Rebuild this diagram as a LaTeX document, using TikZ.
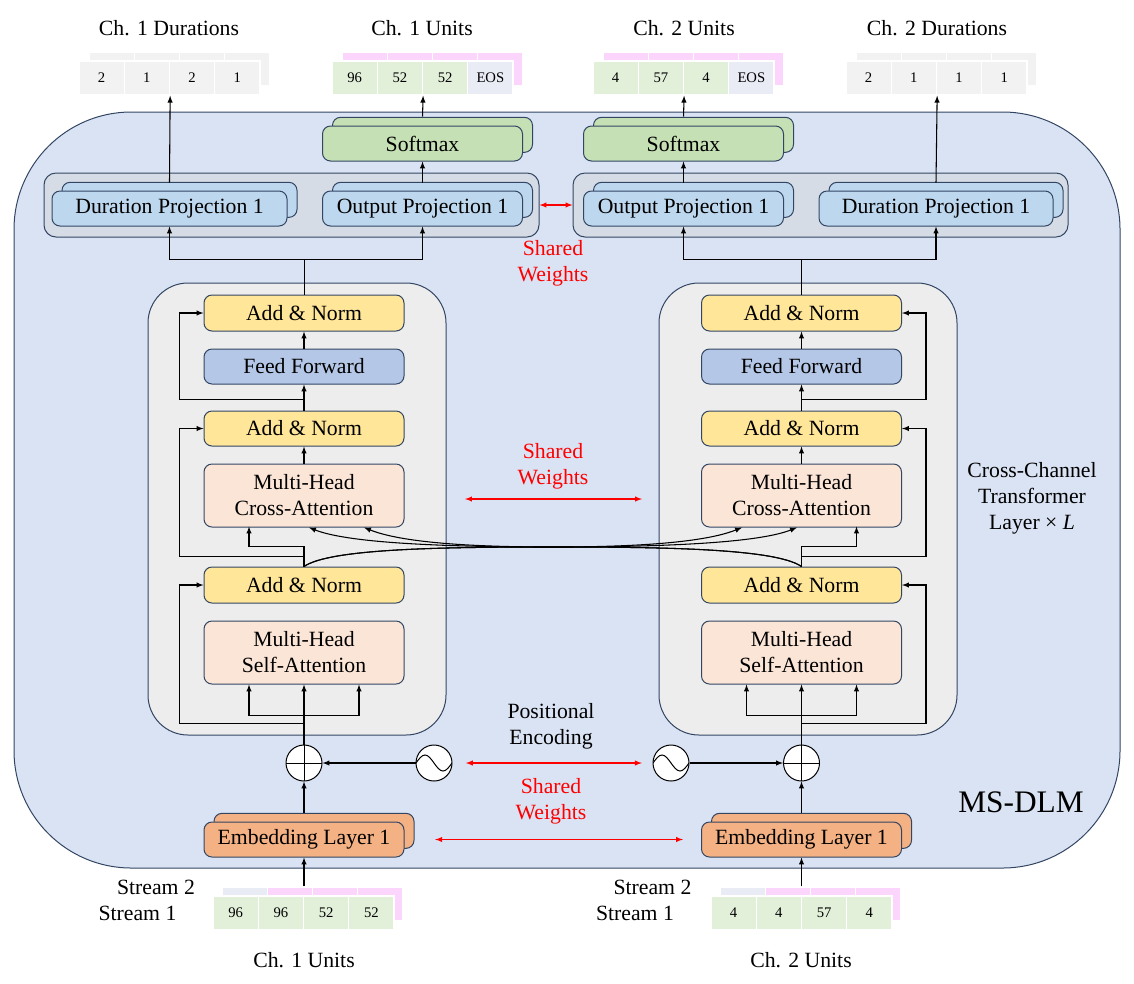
\documentclass[tikz,border=0pt]{standalone}
\usepackage{fontspec}
\setmainfont{Liberation Serif}
\usetikzlibrary{shadows}
\definecolor{outerblue}{HTML}{DAE3F3}
\definecolor{layergrey}{HTML}{EDEDED}
\definecolor{projgrey}{HTML}{D6DCE5}
\definecolor{normyellow}{HTML}{FFE699}
\definecolor{ffblue}{HTML}{B4C7E7}
\definecolor{attnpeach}{HTML}{FBE5D6}
\definecolor{smgreen}{HTML}{C5E0B4}
\definecolor{projblue}{HTML}{BDD7EE}
\definecolor{embpeach}{HTML}{F4B183}
\definecolor{edgecol}{RGB}{50,70,100}
\definecolor{tokgreen}{HTML}{E2F0D9}
\definecolor{toklav}{HTML}{E9EBF5}
\definecolor{tokpink}{HTML}{FCD5FC}
\definecolor{tokgrey}{HTML}{F2F2F2}
\tikzset{
  blk/.style={draw=edgecol, line width=0.75pt, rounded corners=6pt, minimum width=150pt, minimum height=26.25pt, inner sep=0pt, align=center},
  stack/.style={blk, copy shadow={shadow xshift=7.5pt, shadow yshift=6.5pt}},
  arrow/.style={-latex, line width=0.8pt},
  shared/.style={latex-latex, red, line width=0.8pt},
  cell/.style={draw=white, line width=1pt, minimum width=33.9pt, minimum height=25.5pt, inner sep=0pt, font=\fontsize{11}{13}\selectfont},
  plus/.style={circle, draw, fill=white, line width=0.75pt, minimum size=27pt, inner sep=0pt,
    path picture={\draw (path picture bounding box.north) -- (path picture bounding box.south) (path picture bounding box.west) -- (path picture bounding box.east);}},
  wave/.style={circle, draw, fill=white, line width=0.75pt, minimum size=27pt, inner sep=0pt,
    path picture={\draw ([xshift=-13.5pt]path picture bounding box.center) sin ++(6.75pt,6pt) cos ++(6.75pt,-6pt) sin ++(6.75pt,-6pt) cos ++(6.75pt,6pt);}},
}
\begin{document}
\begin{tikzpicture}[x=0.75pt, y=-0.75pt, font=\fontsize{16.3}{19.5}\selectfont]
\useasboundingbox (0,0) rectangle (1134,983);

% model frame
\node[draw=edgecol, fill=outerblue, line width=0.75pt, rounded corners=88pt, minimum width=829.5pt, minimum height=567pt] (msdlm) at (567,490) {};
\node[font=\fontsize{23.5}{28}\selectfont] (msdlm-label) at (1021,802) {MS-DLM};
\node[align=center] (ccl-label) at (1032,498) {Cross-Channel\\Transformer\\Layer × \textit{L}};

% transformer layers
\node[draw=edgecol, fill=layergrey, line width=0.75pt, rounded corners=30pt, minimum width=223.5pt, minimum height=339pt] (L1) at (297,509) {};
\node[draw=edgecol, fill=layergrey, line width=0.75pt, rounded corners=30pt, minimum width=223.5pt, minimum height=339pt] (L2) at (808,509) {};

\foreach \side/\cx/\anc/\dir in {1/304/west/-1, 2/801.5/east/1} {
  \node[blk, fill=normyellow, minimum height=27pt] (an3-\side) at (\cx,313) {Add \& Norm};
  \node[blk, fill=ffblue] (ff-\side) at (\cx,366.5) {Feed Forward};
  \node[blk, fill=normyellow] (an2-\side) at (\cx,428.5) {Add \& Norm};
  \node[blk, fill=attnpeach, minimum height=47.25pt] (ca-\side) at (\cx,495.5) {Multi-Head\\Cross-Attention};
  \node[blk, fill=normyellow, minimum height=27pt] (an1-\side) at (\cx,585) {Add \& Norm};
  \node[blk, fill=attnpeach, minimum height=47.25pt] (sa-\side) at (\cx,652.5) {Multi-Head\\Self-Attention};
  \node[plus] (plus-\side) at (\cx,763) {};
  \node[stack, fill=embpeach] (emb-\side) at (\cx,839.5) {Embedding Layer 1};

  \draw[arrow] (emb-\side.north) ++(0,-9) -- (plus-\side.south);
  \draw[arrow] (plus-\side.north) -- (sa-\side.south);
  \draw[arrow] (sa-\side.south) ++(0,31) -| ++(-55,-31);
  \draw[arrow] (sa-\side.south) ++(0,31) -| ++(55,-31);
  \draw[arrow] (sa-\side.south) ++(0,39) -| ([xshift=\dir*18pt]an1-\side.\anc) -- (an1-\side.\anc);
  \draw[arrow] (an1-\side.north) -- ++(0,-20) -| ++(\dir*55,-20);
  \draw[arrow] (an1-\side.north) ++(0,-10) -| ([xshift=\dir*18pt]an2-\side.\anc) -- (an2-\side.\anc);
  \draw[arrow] (ca-\side.north) -- (an2-\side.south);
  \draw[arrow] (an2-\side.north) -- (ff-\side.south);
  \draw[arrow] (an2-\side.north) ++(0,-11) -| ([xshift=\dir*18pt]an3-\side.\anc) -- (an3-\side.\anc);
  \draw[arrow] (ff-\side.north) -- (an3-\side.south);
}

% cross-channel attention
\coordinate (cross) at (553,547);
\draw[arrow] (an1-1.north) .. controls +(26,-18) and +(-110,0) .. (cross) .. controls +(120,0) and +(-25,10) .. ([xshift=-44.6pt]ca-2.south);
\draw[arrow] (an1-1.north) .. controls +(26,-18) and +(-110,0) .. (cross) .. controls +(150,0) and +(-30,12) .. ([xshift=-3.4pt]ca-2.south);
\draw[arrow] (an1-2.north) .. controls +(-26,-18) and +(110,0) .. (cross) .. controls +(-120,0) and +(25,10) .. ([xshift=45pt]ca-1.south);
\draw[arrow] (an1-2.north) .. controls +(-26,-18) and +(110,0) .. (cross) .. controls +(-150,0) and +(30,12) .. ([xshift=3.75pt]ca-1.south);

% positional encoding
\node[wave] (pe-1) at (434,763) {};
\node[wave] (pe-2) at (671,763) {};
\draw[arrow] (pe-1.west) -- (plus-1.east);
\draw[arrow] (pe-2.east) -- (plus-2.west);
\node[align=center] (pe-label) at (551,726) {Positional\\Encoding};

% projections
\node[draw=edgecol, fill=projgrey, line width=0.75pt, rounded corners=9pt, minimum width=371.25pt, minimum height=48pt] (pc-1) at (291.5,205) {};
\node[draw=edgecol, fill=projgrey, line width=0.75pt, rounded corners=9pt, minimum width=371.25pt, minimum height=48pt] (pc-2) at (820.5,205) {};
\node[stack, fill=projblue, minimum width=176.25pt] (dp-1) at (169.5,208.5) {Duration Projection 1};
\node[stack, fill=projblue] (op-1) at (422.5,208.5) {Output Projection 1};
\node[stack, fill=smgreen] (sm-1) at (422.5,143.5) {Softmax};
\node[stack, fill=projblue] (op-2) at (683.5,208.5) {Output Projection 1};
\node[stack, fill=smgreen] (sm-2) at (683.5,143.5) {Softmax};
\node[stack, fill=projblue, minimum width=175.5pt] (dp-2) at (936,208.5) {Duration Projection 1};

\draw (an3-1.north) -- ++(0,-35) coordinate (top-1);
\draw[arrow] (top-1) -| (dp-1.south);
\draw[arrow] (top-1) -| (op-1.south);
\draw (an3-2.north) -- ++(0,-35) coordinate (top-2);
\draw[arrow] (top-2) -| (op-2.south);
\draw[arrow] (top-2) -| (dp-2.south);
\draw[arrow] (op-1.north) ++(0,-8) -- (sm-1.south);
\draw[arrow] (op-2.north) ++(0,-8) -- (sm-2.south);

% output tokens
\foreach \i in {1,...,4} {
  \node[cell, fill=tokgrey] (db-1-\i) at ({89+45.25*(\i-0.5)},69) {};
  \node[cell, fill=tokpink] (ub-1-\i) at ({342+45.25*(\i-0.5)},69) {};
  \node[cell, fill=tokpink] (ub-2-\i) at ({603+45.25*(\i-0.5)},69) {};
  \node[cell, fill=tokgrey] (db-2-\i) at ({856+45.25*(\i-0.5)},69) {};
}
\foreach \v [count=\i] in {2,1,2,1}
  \node[cell, fill=tokgrey] (d-1-\i) at ({79+45.25*(\i-0.5)},78) {\v};
\foreach \v/\c [count=\i] in {96/tokgreen,52/tokgreen,52/tokgreen,EOS/toklav}
  \node[cell, fill=\c] (u-1-\i) at ({332+45.25*(\i-0.5)},78) {\v};
\foreach \v/\c [count=\i] in {4/tokgreen,57/tokgreen,4/tokgreen,EOS/toklav}
  \node[cell, fill=\c] (u-2-\i) at ({593+45.25*(\i-0.5)},78) {\v};
\foreach \v [count=\i] in {2,1,1,1}
  \node[cell, fill=tokgrey] (d-2-\i) at ({846+45.25*(\i-0.5)},78) {\v};

\node (dur1-label) at (169,28) {Ch. 1 Durations};
\node (unit1-label) at (422,28) {Ch. 1 Units};
\node (unit2-label) at (684,28) {Ch. 2 Units};
\node (dur2-label) at (937,28) {Ch. 2 Durations};

\draw[arrow] (dp-1.north) ++(0,-8) -- (d-1-2.south east);
\draw[arrow] (sm-1.north) ++(0,-9) -- (u-1-2.south east);
\draw[arrow] (sm-2.north) ++(0,-9) -- (u-2-2.south east);
\draw[arrow] (dp-2.north) ++(0,-8) -- (d-2-2.south east);

% input tokens
\foreach \c [count=\i] in {toklav,tokpink,tokpink,tokpink} {
  \node[cell, fill=\c] (ib-1-\i) at ({222+45.25*(\i-0.5)},904) {};
  \node[cell, fill=\c] (ib-2-\i) at ({720+45.25*(\i-0.5)},904) {};
}
\foreach \v [count=\i] in {96,96,52,52}
  \node[cell, fill=tokgreen] (i-1-\i) at ({213+45.25*(\i-0.5)},913) {\v};
\foreach \v [count=\i] in {4,4,57,4}
  \node[cell, fill=tokgreen] (i-2-\i) at ({711+45.25*(\i-0.5)},913) {\v};

\node (s2-1) at (156,887) {Stream 2};
\node (s1-1) at (137.5,913) {Stream 1};
\node (s2-2) at (652.5,887) {Stream 2};
\node (s1-2) at (635,913) {Stream 1};
\node (in1-label) at (304,960) {Ch. 1 Units};
\node (in2-label) at (801,960) {Ch. 2 Units};

\draw[arrow] (emb-1 |- ib-1-1.north) -- (emb-1.south);
\draw[arrow] (emb-2 |- ib-2-1.north) -- (emb-2.south);

% shared weights
\node[red, align=center] (sw-1) at (553,263) {Shared\\Weights};
\node[red, align=center] (sw-2) at (553,466) {Shared\\Weights};
\node[red, align=center] (sw-3) at (551,801) {Shared\\Weights};
\coordinate (swl) at (465,499);
\coordinate (swr) at (642,499);
\draw[shared] (pc-1.east) -- (pc-2.west);
\draw[shared] (swl) -- (swr);
\draw[shared] ([xshift=10pt]pe-1.east) -- ([xshift=-8pt]pe-2.west);
\draw[shared] ([xshift=23pt]emb-1.east) -- ([xshift=-13.5pt]emb-2.west);
\end{tikzpicture}
\end{document}
